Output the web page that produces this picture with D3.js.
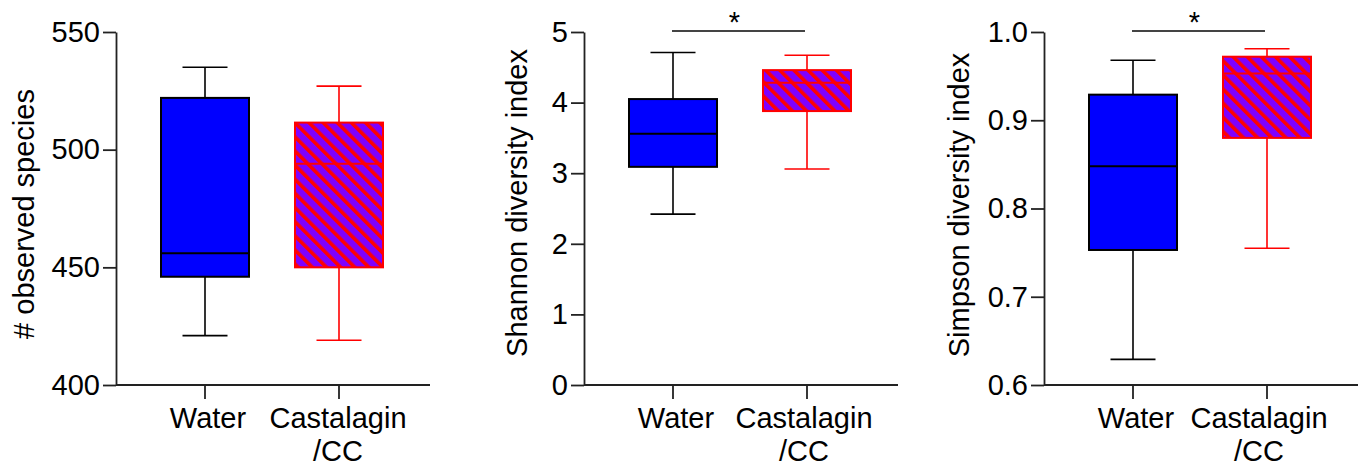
<!DOCTYPE html>
<html>
<head>
<meta charset="utf-8">
<script src="https://cdn.jsdelivr.net/npm/d3@7"></script>
<style>
  html, body { margin: 0; padding: 0; background: #fff; }
  svg { display: block; }
  text { font-family: "Liberation Sans", Arial, Helvetica, sans-serif; fill: #000; }
</style>
</head>
<body>
<svg id="chart" width="1367" height="466"></svg>
<script>
// ---- data ----
const categories = ["Water", "Castalagin/CC"];
const categoryLines = [["Water"], ["Castalagin", "/CC"]];
// [min, q1, median, q3, max]
const observedWater = [421, 446, 456, 522, 535];
const observedCastalagin = [419, 450, 494, 511.5, 527];
const shannonWater = [2.42, 3.09, 3.56, 4.05, 4.71];
const shannonCastalagin = [3.06, 3.88, 4.28, 4.46, 4.67];
const simpsonWater = [0.629, 0.753, 0.848, 0.929, 0.968];
const simpsonCastalagin = [0.755, 0.880, 0.953, 0.972, 0.981];
const observedTicks = [400, 450, 500, 550];
const shannonTicks = [0, 1, 2, 3, 4, 5];
const simpsonTicks = [0.6, 0.7, 0.8, 0.9, 1.0];
const yTitles = ["# observed species", "Shannon diversity index", "Simpson diversity index"];
const significance = ["", "*", "*"];

// ---- layout ----
const panels = [
  { stats: [observedWater, observedCastalagin], ticks: observedTicks, fmt: d3.format("d"), title: yTitles[0], sig: significance[0],
    axisX: 116, titleX: 34, titleY: 214, labelDx: [3, -1] },
  { stats: [shannonWater, shannonCastalagin], ticks: shannonTicks, fmt: d3.format("d"), title: yTitles[1], sig: significance[1],
    axisX: 584, titleX: 527, titleY: 203, labelDx: [3, -3] },
  { stats: [simpsonWater, simpsonCastalagin], ticks: simpsonTicks, fmt: d3.format(".1f"), title: yTitles[2], sig: significance[2],
    axisX: 1044, titleX: 969, titleY: 205, labelDx: [3, -8] }
];
const yTop = 32, yBottom = 385, axisLen = 314;
const boxW = 88, capW = 45;
const fontSize = 29;
const colors = [
  { fill: "#0000FF", stroke: "#000000" },
  { fill: "url(#hatch)", stroke: "#FF0000" }
];

const svg = d3.select("#chart");
const defs = svg.append("defs");
const pat = defs.append("pattern")
  .attr("id", "hatch").attr("patternUnits", "userSpaceOnUse")
  .attr("width", 10).attr("height", 10)
  .attr("patternTransform", "rotate(-45)");
pat.append("rect").attr("width", 10).attr("height", 10).attr("fill", "#7F00FF");
pat.append("rect").attr("x", 0).attr("width", 3.6).attr("height", 10).attr("fill", "#FF0000");

panels.forEach((p) => {
  const g = svg.append("g");
  const y = d3.scaleLinear().domain(d3.extent(p.ticks)).range([yBottom, yTop]);
  const x = d3.scalePoint().domain(categories).range([p.axisX + 89, p.axisX + 223]);

  // y axis
  const ya = g.append("g").attr("transform", `translate(${p.axisX},0)`)
    .call(d3.axisLeft(y).tickValues(p.ticks).tickFormat(p.fmt).tickSize(13).tickSizeOuter(0).tickPadding(3));
  ya.select(".domain").attr("stroke", "#222").attr("stroke-width", 1.8);
  ya.selectAll(".tick line").attr("stroke", "#222").attr("stroke-width", 1.8);
  ya.selectAll(".tick text").attr("font-size", fontSize).attr("font-family", "Liberation Sans, Arial, sans-serif").attr("fill", "#000");

  // x axis
  const xr = d3.scaleLinear().domain([0, 1]).range([p.axisX, p.axisX + axisLen]);
  g.append("line").attr("x1", xr(0)).attr("x2", xr(1)).attr("y1", yBottom).attr("y2", yBottom)
    .attr("stroke", "#222").attr("stroke-width", 1.8);
  categories.forEach((c, i) => {
    g.append("line").attr("x1", x(c)).attr("x2", x(c)).attr("y1", yBottom).attr("y2", yBottom + 14)
      .attr("stroke", "#222").attr("stroke-width", 1.8);
    const t = g.append("text").attr("text-anchor", "middle").attr("font-size", fontSize);
    categoryLines[i].forEach((line, k) => {
      t.append("tspan").attr("x", x(c) + p.labelDx[i]).attr("y", 428 + k * 33).text(line);
    });
  });

  // y title
  g.append("text").attr("transform", `translate(${p.titleX},${p.titleY}) rotate(-90)`)
    .attr("text-anchor", "middle").attr("font-size", fontSize).text(p.title);

  // boxes
  categories.forEach((c, i) => {
    const [mn, q1, md, q3, mx] = p.stats[i];
    const col = colors[i];
    const cx = x(c);
    const bg = g.append("g");
    bg.append("line").attr("x1", cx).attr("x2", cx).attr("y1", y(mx)).attr("y2", y(q3))
      .attr("stroke", col.stroke).attr("stroke-width", 1.6);
    bg.append("line").attr("x1", cx).attr("x2", cx).attr("y1", y(q1)).attr("y2", y(mn))
      .attr("stroke", col.stroke).attr("stroke-width", 1.6);
    bg.append("line").attr("x1", cx - capW / 2).attr("x2", cx + capW / 2).attr("y1", y(mx)).attr("y2", y(mx))
      .attr("stroke", col.stroke).attr("stroke-width", 1.6);
    bg.append("line").attr("x1", cx - capW / 2).attr("x2", cx + capW / 2).attr("y1", y(mn)).attr("y2", y(mn))
      .attr("stroke", col.stroke).attr("stroke-width", 1.6);
    bg.append("rect").attr("x", cx - boxW / 2).attr("width", boxW)
      .attr("y", y(q3)).attr("height", y(q1) - y(q3))
      .attr("fill", col.fill).attr("stroke", col.stroke).attr("stroke-width", 2);
    bg.append("line").attr("x1", cx - boxW / 2).attr("x2", cx + boxW / 2).attr("y1", y(md)).attr("y2", y(md))
      .attr("stroke", col.stroke).attr("stroke-width", 2);
  });

  // significance bar
  if (p.sig) {
    const sy = y(d3.max(p.ticks)) - 1;
    const x1 = x(categories[0]) - 1, x2 = x(categories[1]) - 2;
    g.append("line").attr("x1", x1).attr("x2", x2).attr("y1", sy).attr("y2", sy)
      .attr("stroke", "#444").attr("stroke-width", 1.8);
    g.append("text").attr("x", (x1 + x2) / 2 - 4).attr("y", sy + 1).attr("text-anchor", "middle")
      .attr("font-size", fontSize).text(p.sig);
  }
});
</script>
</body>
</html>
